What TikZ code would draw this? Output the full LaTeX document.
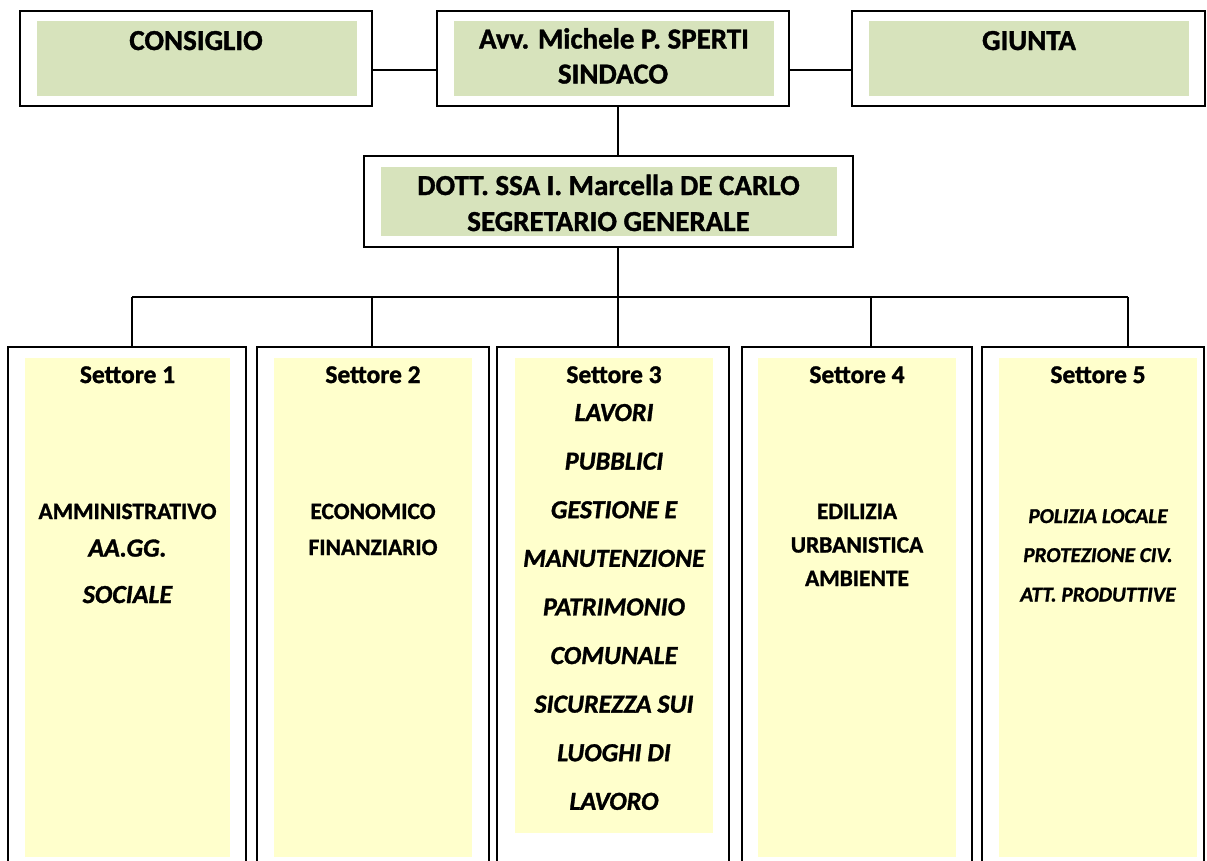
\documentclass[tikz,border=0pt]{standalone}
\usepackage{fontspec}
\setmainfont{Carlito}[BoldFeatures={FakeBold=1.2}, BoldItalicFeatures={FakeBold=1.2}]
\definecolor{boardgreen}{HTML}{D7E3BC}
\definecolor{sectoryellow}{HTML}{FFFFCC}
\begin{document}
\begin{tikzpicture}
    [x=1pt, y=-1pt, line width=1.8pt,
     frame/.style={draw, line width=2pt, rectangle, inner sep=0pt},
     head/.style={font=\fontsize{29}{35}\selectfont\bfseries, anchor=base, inner sep=0pt},
     sect/.style={font=\fontsize{25.5}{30}\selectfont\bfseries, anchor=base, inner sep=0pt},
     upright/.style={font=\fontsize{23.4}{28}\selectfont\bfseries, anchor=base, inner sep=0pt},
     slanted/.style={font=\fontsize{26}{31}\selectfont\bfseries\itshape, anchor=base, inner sep=0pt},
     smallslant/.style={font=\fontsize{21.2}{25}\selectfont\bfseries\itshape, anchor=base, inner sep=0pt},
    ]
    \useasboundingbox (0,0) rectangle (1207,860);
    \clip (0,0) rectangle (1207,860);

    % top row
    \node[frame, minimum width=352pt, minimum height=95pt] (cons) at (196,58.5) {};
    \node[frame, minimum width=352pt, minimum height=95pt] (sind) at (613,58.5) {};
    \node[frame, minimum width=353pt, minimum height=95pt] (giun) at (1028.5,58.5) {};
    \fill[boardgreen] (37,21) rectangle (357,96);
    \fill[boardgreen] (454,21) rectangle (774,96);
    \fill[boardgreen] (869,21) rectangle (1189,96);
    \node[head] (cons-t) at (196,50) {CONSIGLIO};
    \node[head] (sind-t) at (614,48.5) {Avv. Michele P. SPERTI};
    \node[head] (sind-r) at (613,83.5) {SINDACO};
    \node[head] (giun-t) at (1029,50) {GIUNTA};

    % segretario
    \node[frame, minimum width=489pt, minimum height=91pt] (segr) at (608.5,201.5) {};
    \fill[boardgreen] (381,167) rectangle (837,236);
    \node[head] (segr-t) at (608.5,195) {DOTT. SSA I. Marcella DE CARLO};
    \node[head] (segr-r) at (608.5,231) {SEGRETARIO GENERALE};

    % settori
    \node[frame, minimum width=238pt, minimum height=528pt] (sec1) at (127,611) {};
    \node[frame, minimum width=232pt, minimum height=528pt] (sec2) at (373,611) {};
    \node[frame, minimum width=232pt, minimum height=528pt] (sec3) at (613,611) {};
    \node[frame, minimum width=230pt, minimum height=528pt] (sec4) at (857,611) {};
    \node[frame, minimum width=222pt, minimum height=528pt] (sec5) at (1093,611) {};
    \fill[sectoryellow] (25,358) rectangle (230,857);
    \fill[sectoryellow] (274,358) rectangle (472,857);
    \fill[sectoryellow] (515,358) rectangle (713,833);
    \fill[sectoryellow] (758,358) rectangle (956,857);
    \fill[sectoryellow] (999,358) rectangle (1197,857);

    \node[sect] (sec1-t) at (127.5,383) {Settore 1};
    \node[sect] (sec2-t) at (373,383) {Settore 2};
    \node[sect] (sec3-t) at (614,383) {Settore 3};
    \node[sect] (sec4-t) at (857,383) {Settore 4};
    \node[sect] (sec5-t) at (1098,383) {Settore 5};

    \node[upright] (sec1-a) at (127.5,519) {AMMINISTRATIVO};
    \node[slanted] (sec1-b) at (127.5,556.5) {AA.GG.};
    \node[slanted] (sec1-c) at (127.5,603) {SOCIALE};

    \node[upright] (sec2-a) at (373,519) {ECONOMICO};
    \node[upright] (sec2-b) at (373,555) {FINANZIARIO};

    \foreach \txt [count=\i] in {LAVORI, PUBBLICI, GESTIONE E, MANUTENZIONE,
        PATRIMONIO, COMUNALE, SICUREZZA SUI, LUOGHI DI, LAVORO}
      \node[slanted] (sec3-\i) at (614,{421+48.6*(\i-1)}) {\txt};

    \node[upright] (sec4-a) at (857,519) {EDILIZIA};
    \node[upright] (sec4-b) at (857,552.5) {URBANISTICA};
    \node[upright] (sec4-c) at (857,586) {AMBIENTE};

    \node[smallslant] (sec5-a) at (1098,523) {POLIZIA LOCALE};
    \node[smallslant] (sec5-b) at (1098,562) {PROTEZIONE CIV.};
    \node[smallslant] (sec5-c) at (1098,601.5) {ATT. PRODUTTIVE};

    % connectors
    \coordinate (spine) at (618,0);
    \coordinate (bus) at (618,297);
    \coordinate (d1) at (132,297);
    \coordinate (d2) at (372,297);
    \coordinate (d3) at (618,297);
    \coordinate (d4) at (871,297);
    \coordinate (d5) at (1128,297);
    \draw ([yshift=-11.5pt]cons.east) -- ([yshift=-11.5pt]sind.west);
    \draw ([yshift=-11.5pt]sind.east) -- ([yshift=-11.5pt]giun.west);
    \draw (sind.south -| spine) -- (segr.north -| spine);
    \draw (segr.south -| spine) -- (bus);
    \draw (d1) -- (d5);
    \foreach \i in {1,...,5}
      \draw (d\i) -- (d\i |- sec\i.north);
\end{tikzpicture}
\end{document}
